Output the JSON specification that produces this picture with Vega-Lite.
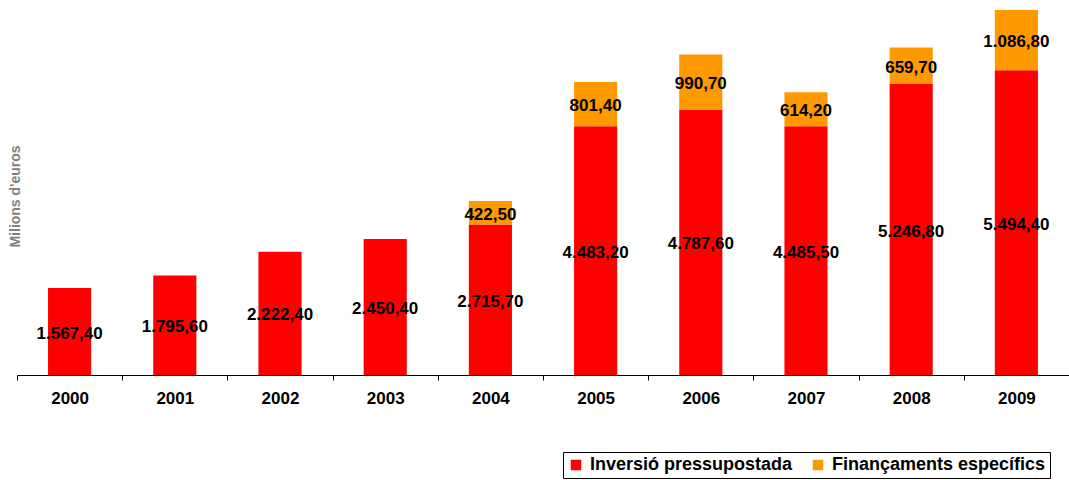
{
  "$schema": "https://vega.github.io/schema/vega-lite/v6.json",
  "width": 1052,
  "height": 375,
  "autosize": {"type": "none"},
  "padding": {"left": 17, "top": 0, "right": 0, "bottom": 105},
  "background": "white",
  "config": {
    "view": {"stroke": null},
    "locale": {"number": {"decimal": ",", "thousands": ".", "grouping": [3], "currency": ["", " €"]}},
    "font": "Liberation Sans"
  },
  "data": {
    "values": [
      {"year": "2000", "serie": "Inversió pressupostada", "value": 1567.4},
      {"year": "2001", "serie": "Inversió pressupostada", "value": 1795.6},
      {"year": "2002", "serie": "Inversió pressupostada", "value": 2222.4},
      {"year": "2003", "serie": "Inversió pressupostada", "value": 2450.4},
      {"year": "2004", "serie": "Inversió pressupostada", "value": 2715.7},
      {"year": "2005", "serie": "Inversió pressupostada", "value": 4483.2},
      {"year": "2006", "serie": "Inversió pressupostada", "value": 4787.6},
      {"year": "2007", "serie": "Inversió pressupostada", "value": 4485.5},
      {"year": "2008", "serie": "Inversió pressupostada", "value": 5246.8},
      {"year": "2009", "serie": "Inversió pressupostada", "value": 5494.4},
      {"year": "2004", "serie": "Finançaments específics", "value": 422.5},
      {"year": "2005", "serie": "Finançaments específics", "value": 801.4},
      {"year": "2006", "serie": "Finançaments específics", "value": 990.7},
      {"year": "2007", "serie": "Finançaments específics", "value": 614.2},
      {"year": "2008", "serie": "Finançaments específics", "value": 659.7},
      {"year": "2009", "serie": "Finançaments específics", "value": 1086.8}
    ]
  },
  "transform": [
    {"calculate": "indexof(['Inversió pressupostada','Finançaments específics'], datum.serie)", "as": "ord"},
    {"stack": "value", "groupby": ["year"], "sort": [{"field": "ord", "order": "ascending"}], "as": ["y0", "y1"]},
    {"calculate": "(datum.y0 + datum.y1) / 2", "as": "mid"}
  ],
  "encoding": {
    "x": {
      "field": "year",
      "type": "nominal",
      "scale": {"paddingInner": 0, "paddingOuter": 0},
      "axis": {
        "title": null,
        "labelAngle": 0,
        "labelFont": "Liberation Sans",
        "labelFontSize": 17,
        "labelFontWeight": "bold",
        "labelColor": "#000000",
        "labelPadding": 10,
        "domainColor": "#000000",
        "tickColor": "#000000",
        "tickSize": 5,
        "tickBand": "extent",
        "grid": false
      }
    }
  },
  "layer": [
    {
      "mark": {"type": "bar", "width": {"band": 0.41}},
      "encoding": {
        "y": {
          "field": "y0",
          "type": "quantitative",
          "scale": {"domain": [0, 6761.5], "nice": false, "zero": true},
          "axis": {
            "title": "Milions d'euros",
            "labels": false,
            "ticks": false,
            "domain": false,
            "grid": false,
            "titleFont": "Liberation Sans",
            "titleFontSize": 14,
            "titleFontWeight": "bold",
            "titleColor": "#808080",
            "titleAngle": -90,
            "titleX": -2,
            "titleY": 196,
            "titleAlign": "center",
            "titleBaseline": "middle"
          }
        },
        "y2": {"field": "y1"},
        "color": {
          "field": "serie",
          "type": "nominal",
          "scale": {
            "domain": ["Inversió pressupostada", "Finançaments específics"],
            "range": ["#FF0000", "#FF9900"]
          },
          "legend": {
            "title": null,
            "orient": "none",
            "legendX": 546,
            "legendY": 452,
            "direction": "horizontal",
            "symbolType": "square",
            "symbolSize": 110,
            "symbolStrokeWidth": 0,
            "labelFont": "Liberation Sans",
            "labelFontSize": 18,
            "labelFontWeight": "bold",
            "labelColor": "#000000",
            "labelLimit": 400,
            "labelOffset": 5,
            "columnPadding": 16,
            "padding": 4,
            "strokeColor": "#000000",
            "fillColor": "#ffffff"
          }
        }
      }
    },
    {
      "mark": {"type": "text", "font": "Liberation Sans", "fontSize": 17, "fontWeight": "bold", "color": "#000000", "baseline": "middle", "align": "center", "dy": 2},
      "encoding": {
        "y": {"field": "mid", "type": "quantitative"},
        "text": {"field": "value", "type": "quantitative", "format": ",.2f"}
      }
    }
  ]
}
